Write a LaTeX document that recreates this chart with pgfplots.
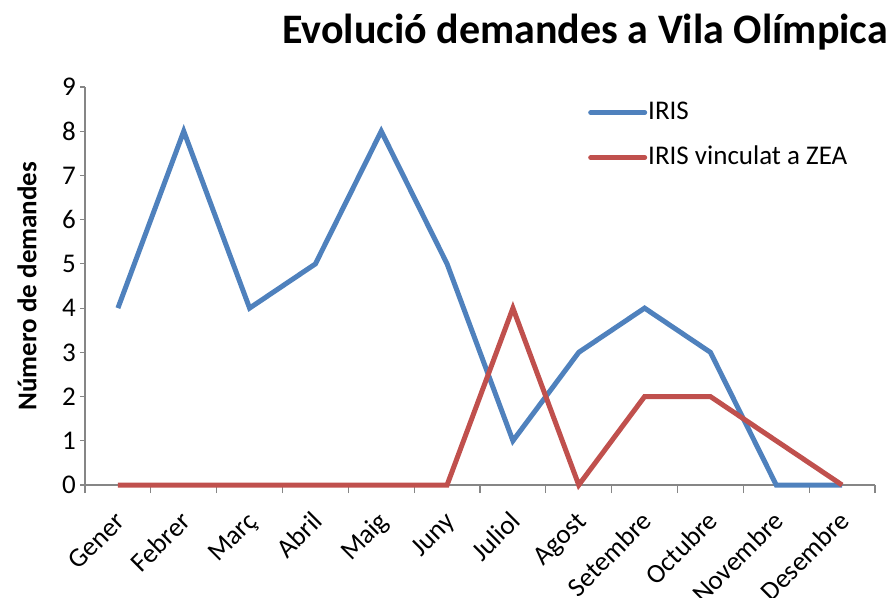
\documentclass[border=0pt]{standalone}
\usepackage{fontspec}
\setmainfont{Carlito}
\usepackage{pgfplots}
\pgfplotsset{compat=1.18}
\definecolor{irisblue}{HTML}{4F81BD}
\definecolor{zeared}{HTML}{C0504D}
\definecolor{axgray}{HTML}{868686}
\begin{document}
\begin{tikzpicture}[x=1pt,y=1pt]
\useasboundingbox (-85,-112) rectangle (809,485);
\begin{axis}[
 scale only axis, width=790pt, height=398pt,
 at={(0pt,0pt)}, anchor=south west,
 xmin=-0.5, xmax=11.5, ymin=0, ymax=9,
 clip=false,
 axis lines*=left,
 axis line style={axgray, line width=1.2pt},
 every tick/.style={axgray, line width=1.2pt},
 tick align=outside,
 major tick length=5pt,
 minor tick length=8pt,
 xtick={0,...,11},
 xticklabels={Gener,Febrer,Març,Abril,Maig,Juny,Juliol,Agost,Setembre,Octubre,Novembre,Desembre},
 major x tick style={draw=none},
 minor xtick={-0.5,0.5,...,11.5},
 ytick={0,...,9},
 /pgf/number format/assume math mode=true,
 tick label style={font=\fontsize{27}{32}\selectfont},
 xticklabel style={rotate=45, anchor=east, inner sep=0pt, text height=17pt, text depth=0pt, xshift=-17pt, yshift=-21pt},
 yticklabel style={inner sep=0pt, xshift=-4pt},
 ylabel={Número de demandes},
 ylabel style={font=\fontsize{27}{32}\selectfont\bfseries, at={(axis description cs:-0.0735,0.5)}, anchor=center, rotate=0},
 legend style={at={(0.6367,0.97)}, anchor=north west, draw=none, fill=none, inner sep=0pt,
   font=\fontsize{27}{32}\selectfont, row sep=18pt,
   nodes={inner sep=1pt, text height=19pt, text depth=6pt}},
 legend cell align=left,
 legend image code/.code={\draw[#1, line cap=round] (0pt,0pt) -- (54pt,0pt);},
]
\addplot[irisblue, line width=5pt] coordinates {(0,4) (1,8) (2,4) (3,5) (4,8) (5,5) (6,1) (7,3) (8,4) (9,3) (10,0) (11,0)};
\addlegendentry{IRIS}
\addplot[zeared, line width=5pt] coordinates {(0,0) (1,0) (2,0) (3,0) (4,0) (5,0) (6,4) (7,0) (8,2) (9,2) (10,1) (11,0)};
\addlegendentry{IRIS vinculat a ZEA}
\end{axis}
\node[anchor=base east, font=\fontsize{42}{50}\selectfont\bfseries, inner sep=0pt] at (803,441) {Evolució demandes a Vila Olímpica};
\end{tikzpicture}
\end{document}
